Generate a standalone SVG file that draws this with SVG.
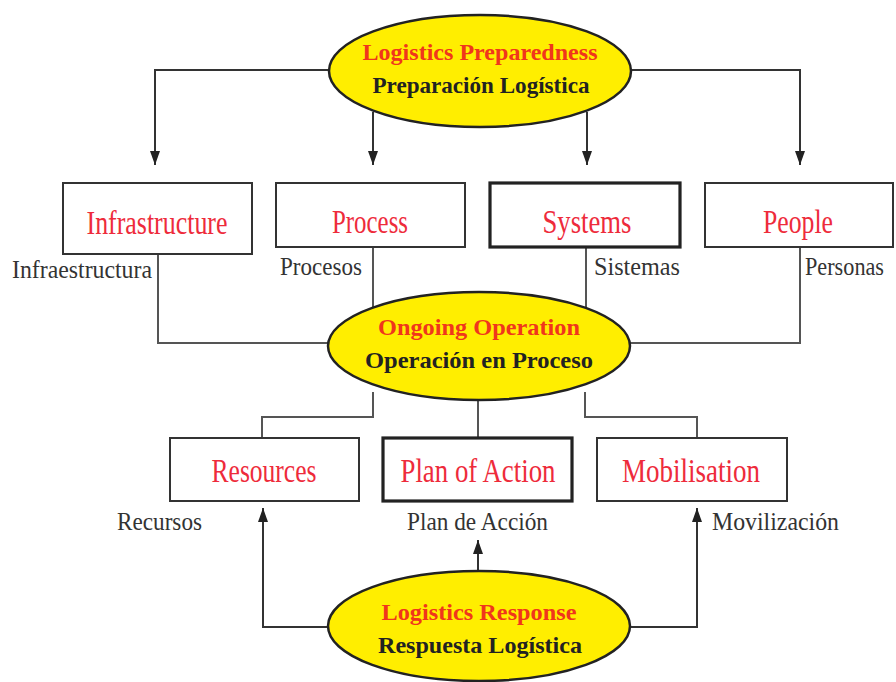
<svg xmlns="http://www.w3.org/2000/svg" width="896" height="682" viewBox="0 0 896 682">
<defs>
<marker id="arr" viewBox="0 0 14 10" refX="14" refY="5" markerWidth="14" markerHeight="10" markerUnits="userSpaceOnUse" orient="auto">
<path d="M0,0 L14,5 L0,10 Z" fill="#222"/>
</marker>
</defs>
<style>
.box{fill:#fff;stroke:#333;stroke-width:2}
.thick{stroke:#222;stroke-width:3.2}
.ell{fill:#ffee00;stroke:#222;stroke-width:2.5}
text{font-family:"Liberation Serif","DejaVu Serif","Times New Roman",serif}
.bt{font-size:33px;fill:#ee2b3b;text-anchor:middle}
.lb{font-size:26px;fill:#333}
.e1{font-size:23px;font-weight:bold;fill:#f0361c;text-anchor:middle}
.e2{font-size:23px;font-weight:bold;fill:#222;text-anchor:middle}
.ln{fill:none;stroke:#555;stroke-width:2}
.ar{fill:none;stroke:#333;stroke-width:2}
</style>
<rect width="896" height="682" fill="#fff"/>
<g id="connectors">
<path class="ar" d="M330,70 H155 V165" marker-end="url(#arr)"/>
<path class="ar" d="M630,70 H800 V165" marker-end="url(#arr)"/>
<path class="ar" d="M373,112 V165" marker-end="url(#arr)"/>
<path class="ar" d="M587,112 V165" marker-end="url(#arr)"/>
<path class="ln" d="M158,254 V343 H330"/>
<path class="ln" d="M373,247 V312"/>
<path class="ln" d="M586,247 V312"/>
<path class="ln" d="M800,247 V343 H630"/>
<path class="ln" d="M373,392 V417 H262 V438"/>
<path class="ln" d="M478,400 V438"/>
<path class="ln" d="M585,392 V417 H697 V438"/>
<path class="ar" d="M328,627 H263 V508" marker-end="url(#arr)"/>
<path class="ar" d="M630,627 H697 V508" marker-end="url(#arr)"/>
<path class="ar" d="M478,571 V540" marker-end="url(#arr)"/>
</g>
<g id="preparedness">
<ellipse class="ell" cx="480" cy="71" rx="151" ry="56"/>
<text class="e1" x="480" y="60" textLength="235" lengthAdjust="spacingAndGlyphs" font-family="Liberation Serif, serif">Logistics Preparedness</text>
<text class="e2" x="481" y="93" textLength="217" lengthAdjust="spacingAndGlyphs" font-family="Liberation Serif, serif">Preparación Logística</text>
</g>
<g id="infrastructure">
<rect class="box" x="63" y="183" width="189" height="71"/>
<text class="bt" x="157" y="234" textLength="141" lengthAdjust="spacingAndGlyphs" font-family="Liberation Serif, serif">Infrastructure</text>
<text class="lb" x="12" y="278" textLength="140" lengthAdjust="spacingAndGlyphs" font-family="Liberation Serif, serif">Infraestructura</text>
</g>
<g id="process">
<rect class="box" x="276" y="183" width="189" height="64"/>
<text class="bt" x="370" y="233" textLength="76" lengthAdjust="spacingAndGlyphs" font-family="Liberation Serif, serif">Process</text>
<text class="lb" x="280" y="275" textLength="82" lengthAdjust="spacingAndGlyphs" font-family="Liberation Serif, serif">Procesos</text>
</g>
<g id="systems">
<rect class="box thick" x="490" y="183" width="190" height="64"/>
<text class="bt" x="587" y="233" textLength="89" lengthAdjust="spacingAndGlyphs" font-family="Liberation Serif, serif">Systems</text>
<text class="lb" x="594" y="275" textLength="86" lengthAdjust="spacingAndGlyphs" font-family="Liberation Serif, serif">Sistemas</text>
</g>
<g id="people">
<rect class="box" x="705" y="183" width="188" height="64"/>
<text class="bt" x="798" y="233" textLength="70" lengthAdjust="spacingAndGlyphs" font-family="Liberation Serif, serif">People</text>
<text class="lb" x="805" y="275" textLength="79" lengthAdjust="spacingAndGlyphs" font-family="Liberation Serif, serif">Personas</text>
</g>
<g id="ongoing">
<ellipse class="ell" cx="479" cy="346" rx="151" ry="54"/>
<text class="e1" x="479" y="335" textLength="202" lengthAdjust="spacingAndGlyphs" font-family="Liberation Serif, serif">Ongoing Operation</text>
<text class="e2" x="479" y="368" textLength="228" lengthAdjust="spacingAndGlyphs" font-family="Liberation Serif, serif">Operación en Proceso</text>
</g>
<g id="resources">
<rect class="box" x="170" y="438" width="189" height="63"/>
<text class="bt" x="264" y="482" textLength="105" lengthAdjust="spacingAndGlyphs" font-family="Liberation Serif, serif">Resources</text>
<text class="lb" x="117" y="530" textLength="85" lengthAdjust="spacingAndGlyphs" font-family="Liberation Serif, serif">Recursos</text>
</g>
<g id="plan">
<rect class="box thick" x="383" y="438" width="189" height="63"/>
<text class="bt" x="478" y="482" textLength="155" lengthAdjust="spacingAndGlyphs" font-family="Liberation Serif, serif">Plan of Action</text>
<text class="lb" x="407" y="530" textLength="141" lengthAdjust="spacingAndGlyphs" font-family="Liberation Serif, serif">Plan de Acción</text>
</g>
<g id="mobilisation">
<rect class="box" x="597" y="438" width="190" height="63"/>
<text class="bt" x="691" y="482" textLength="138" lengthAdjust="spacingAndGlyphs" font-family="Liberation Serif, serif">Mobilisation</text>
<text class="lb" x="712" y="530" textLength="127" lengthAdjust="spacingAndGlyphs" font-family="Liberation Serif, serif">Movilización</text>
</g>
<g id="response">
<ellipse class="ell" cx="479" cy="626" rx="151" ry="55"/>
<text class="e1" x="479" y="620" textLength="195" lengthAdjust="spacingAndGlyphs" font-family="Liberation Serif, serif">Logistics Response</text>
<text class="e2" x="480" y="653" textLength="204" lengthAdjust="spacingAndGlyphs" font-family="Liberation Serif, serif">Respuesta Logística</text>
</g>
</svg>
